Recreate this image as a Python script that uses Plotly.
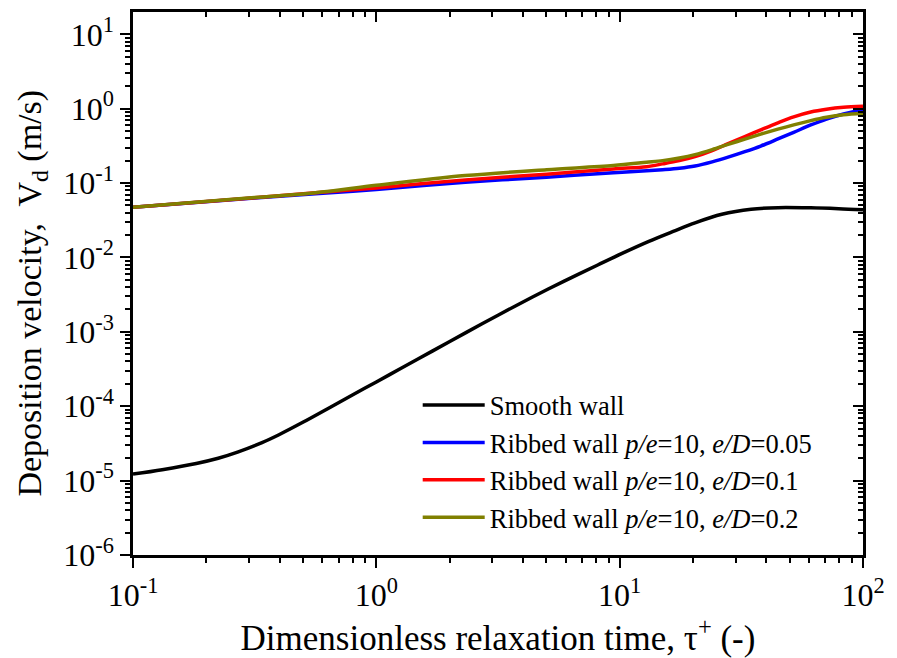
import plotly.graph_objects as go

# ---------------- data ----------------
smooth_x = [0.1, 0.1318, 0.182, 0.224, 0.269, 0.339, 0.398, 0.501, 0.631, 0.794, 1.0,
            1.259, 1.698, 2.344, 3.162, 4.365, 5.888, 8.128, 10.23, 13.18, 16.6, 20.4,
            26.3, 34.7, 44.7, 61.0, 79.4, 100]
smooth_y = [1.222e-5, 1.403e-5, 1.702e-5, 2.000e-5, 2.415e-5, 3.243e-5, 4.140e-5,
            6.124e-5, 9.268e-5, 1.403e-4, 2.123e-4, 3.214e-4, 5.508e-4, 9.840e-4,
            1.675e-3, 2.917e-3, 4.775e-3, 7.925e-3, 1.135e-2, 1.648e-2, 2.239e-2,
            2.917e-2, 3.802e-2, 4.446e-2, 4.677e-2, 4.645e-2, 4.519e-2, 4.365e-2]

ribbed_x = [0.1, 0.316, 0.562, 1.0, 2.32, 5.01, 9.42, 12.9, 15.0, 17.6, 20.4, 24.0,
            27.9, 32.7, 38.0, 44.7, 51.9, 61.0, 70.8, 83.2, 100]
r005_y = [0.0473, 0.0631, 0.0716, 0.0822, 0.1026, 0.1202, 0.1380, 0.1462, 0.1514,
          0.1585, 0.1698, 0.1928, 0.2228, 0.2642, 0.3148, 0.3917, 0.4808, 0.6039,
          0.7261, 0.8492, 0.9772]
r01_y = [0.0473, 0.0634, 0.0741, 0.0861, 0.1104, 0.1318, 0.1549, 0.1663, 0.1811,
         0.2004, 0.2270, 0.2735, 0.3388, 0.4217, 0.5188, 0.6457, 0.7762, 0.9016,
         0.9817, 1.0423, 1.0789]
r02_y = [0.0473, 0.0638, 0.0741, 0.0933, 0.1262, 0.1514, 0.1718, 0.1905, 0.2004,
         0.2178, 0.2415, 0.2818, 0.3311, 0.3908, 0.4550, 0.5309, 0.6067, 0.6918,
         0.7674, 0.8318, 0.8710]

x_tick_vals = [0.1, 1, 10, 100]
x_tick_text = ["10<sup>-1</sup>", "10<sup>0</sup>", "10<sup>1</sup>", "10<sup>2</sup>"]
y_tick_vals = [1e-6, 1e-5, 1e-4, 1e-3, 1e-2, 1e-1, 1, 10]
y_tick_text = ["10<sup>-6</sup>", "10<sup>-5</sup>", "10<sup>-4</sup>", "10<sup>-3</sup>",
               "10<sup>-2</sup>", "10<sup>-1</sup>", "10<sup>0</sup>", "10<sup>1</sup>"]

series_names = ["Smooth wall",
                "Ribbed wall <i>p/e</i>=10, <i>e/D</i>=0.05",
                "Ribbed wall <i>p/e</i>=10, <i>e/D</i>=0.1",
                "Ribbed wall <i>p/e</i>=10, <i>e/D</i>=0.2"]
series_colors = ["#000000", "#0000ff", "#ff0000", "#808000"]

x_title = "Dimensionless relaxation time, τ<sup>+</sup> (-)"
y_title = "Deposition velocity,  V<sub>d</sub> (m/s)"

x_minor = [m * 10.0 ** e for e in range(-1, 2) for m in range(2, 10)]
y_minor = [m * 10.0 ** e for e in range(-6, 1) for m in range(2, 10)] + [20]

FONT = "Liberation Serif, Times New Roman, serif"

fig = go.Figure()
data = [(smooth_x, smooth_y), (ribbed_x, r005_y), (ribbed_x, r01_y), (ribbed_x, r02_y)]
for (xs, ys), name, col in zip(data, series_names, series_colors):
    fig.add_trace(go.Scatter(x=xs, y=ys, mode="lines", name=name,
                             line=dict(color=col, width=3.5, shape="spline", smoothing=0.9)))

# dummy trace for mirrored inside-tick axes
fig.add_trace(go.Scatter(x=[None], y=[None], xaxis="x2", yaxis="y2",
                         showlegend=False, hoverinfo="skip"))

axis_common = dict(type="log", showgrid=False, zeroline=False,
                   linecolor="black", linewidth=2.5, tickcolor="black", tickwidth=2)

fig.update_layout(
    width=897, height=658,
    margin=dict(l=133, r=24, t=12, b=103),
    paper_bgcolor="white", plot_bgcolor="white",
    font=dict(family=FONT, color="black", size=30),
    xaxis=dict(**axis_common, range=[-1, 2], ticks="outside", ticklen=10,
               tickmode="array", tickvals=x_tick_vals, ticktext=x_tick_text,
               tickfont=dict(size=32, family=FONT),
               minor=dict(tickmode="array", tickvals=x_minor, ticks="outside",
                          ticklen=5, tickwidth=2, tickcolor="black"),
               title=dict(text=x_title, font=dict(size=35, family=FONT), standoff=3)),
    yaxis=dict(**axis_common, range=[-6, 1.3], ticks="outside", ticklen=10,
               tickmode="array", tickvals=y_tick_vals, ticktext=y_tick_text,
               tickfont=dict(size=32, family=FONT),
               minor=dict(tickmode="array", tickvals=y_minor, ticks="outside",
                          ticklen=5, tickwidth=2, tickcolor="black")),
    xaxis2=dict(**axis_common, range=[-1, 2], overlaying="x", side="top", anchor="y",
                ticks="inside", ticklen=10, tickmode="array", tickvals=x_tick_vals,
                showticklabels=False,
                minor=dict(tickmode="array", tickvals=x_minor, ticks="inside",
                           ticklen=5, tickwidth=2, tickcolor="black")),
    yaxis2=dict(**axis_common, range=[-6, 1.3], overlaying="y", side="right", anchor="x",
                ticks="inside", ticklen=10, tickmode="array", tickvals=y_tick_vals,
                showticklabels=False,
                minor=dict(tickmode="array", tickvals=y_minor, ticks="inside",
                           ticklen=5, tickwidth=2, tickcolor="black")),
    legend=dict(x=0.39, y=0.32, xanchor="left", yanchor="top",
                bgcolor="rgba(0,0,0,0)", font=dict(size=26.5, family=FONT),
                itemwidth=62, tracegroupgap=0),
    showlegend=True,
    annotations=[dict(text=y_title, textangle=-90, xref="paper", yref="paper",
                      x=-0.139, y=0.4825, xanchor="center", yanchor="middle",
                      showarrow=False, font=dict(size=34, family=FONT, color="black"))],
)

fig.write_html("out.html")
